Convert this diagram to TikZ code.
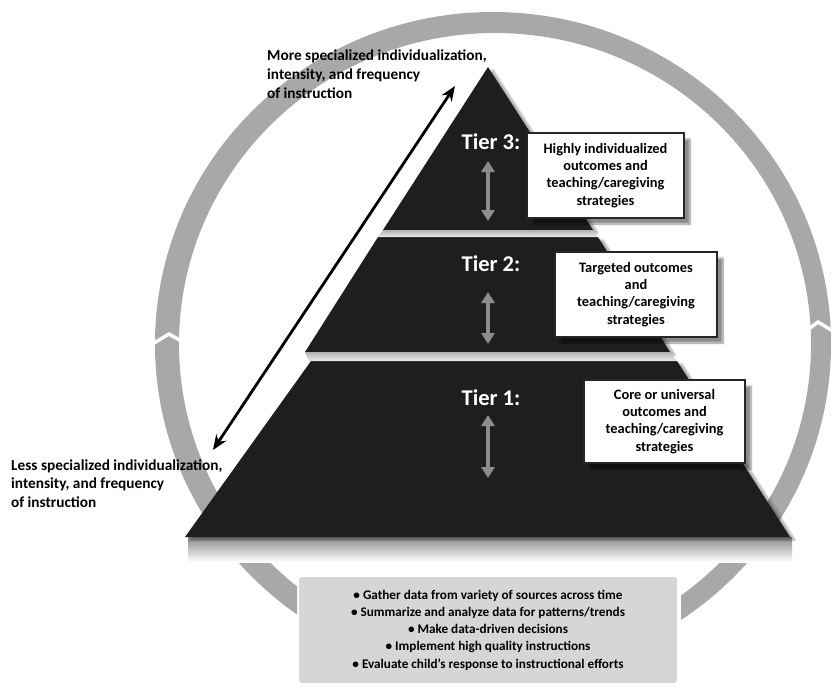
\documentclass[tikz,border=0pt]{standalone}
\usepackage{fontspec}
\setmainfont{Carlito}
\usetikzlibrary{arrows.meta,shadows.blur}
\definecolor{ringgray}{HTML}{A8A8A8}
\definecolor{tierfill}{HTML}{1E1E1E}
\definecolor{boxgray}{HTML}{D6D6D6}
\definecolor{arrowgray}{HTML}{8C8C8C}
\tikzset{
  tier/.style={fill=tierfill, blur shadow={shadow xshift=5pt, shadow yshift=-3pt, shadow blur steps=8, shadow opacity=35}},
  band/.style={top color=black!30, bottom color=black!8},
  tierlabel/.style={text=white, font=\fontsize{22.5}{22.5}\selectfont\bfseries, inner sep=0pt},
  descbox/.style={draw=black!85, line width=2.8pt, fill=white, align=center, inner sep=0pt,
    font=\fontsize{14.4}{17.3}\selectfont\bfseries,
    blur shadow={shadow xshift=6pt, shadow yshift=-6pt, shadow blur steps=8, shadow opacity=45}},
  sidelabel/.style={align=left, inner sep=0pt, font=\fontsize{15.3}{18.8}\selectfont\bfseries},
  dblarrow/.style={draw=arrowgray, line width=4.6pt, {Triangle[width=13pt,length=11pt]}-{Triangle[width=13pt,length=11pt]}},
  bigarrow/.style={draw=black, line width=2.8pt, {Stealth[length=15pt,width=12pt]}-{Stealth[length=15pt,width=12pt]}},
  chevron/.style={draw=white, line width=3.5pt}
}
\begin{document}
\begin{tikzpicture}[x=1pt,y=-1pt]
\useasboundingbox (0,0) rectangle (840,694);
% ring
\begin{scope}
  \clip (0,0) -- (840,0) -- (840,694) -- (681,694) -- (681,560) -- (297,560) -- (297,694) -- (0,694) -- cycle;
  \fill[ringgray, even odd rule] (493,344) ellipse [x radius=338, y radius=332]
                                 (495,344) ellipse [x radius=316, y radius=311];
\end{scope}
\draw[chevron] (149,346) -- (169,334) -- (190,346);
\draw[chevron] (802,334) -- (818,322) -- (836,333);
% shadow under pyramid
\shade[top color=black!45, bottom color=white] (188,537) rectangle (792,562);
% tiers
\fill[tier] (311,361) -- (677,361) -- (790,537) -- (185,537) -- cycle;
\fill[tier] (378,237) -- (598,237) -- (670,352) -- (305,352) -- cycle;
\fill[tier] (488,67) -- (593,230) -- (383,230) -- cycle;
% bevel bands
\shade[band] (383,230) -- (593,230) -- (598,237) -- (378,237) -- cycle;
\shade[band] (305,352) -- (670,352) -- (677,361) -- (309,361) -- cycle;
% tier labels
\node[tierlabel] (t3) at (491,142) {Tier 3:};
\node[tierlabel] (t2) at (491,264) {Tier 2:};
\node[tierlabel] (t1) at (491,398) {Tier 1:};
% gray double arrows
\coordinate (a3t) at (488,161);
\coordinate (a3b) at (488,221);
\coordinate (a2t) at (488,292);
\coordinate (a2b) at (488,344);
\coordinate (a1t) at (488,415);
\coordinate (a1b) at (488,478);
\draw[dblarrow] (a3t) -- (a3b);
\draw[dblarrow] (a2t) -- (a2b);
\draw[dblarrow] (a1t) -- (a1b);
% description boxes
\node[descbox, minimum width=157pt, minimum height=85pt] (b3) at (605.5,175.5)
  {Highly individualized\\outcomes and\\teaching/caregiving\\strategies};
\node[descbox, minimum width=162pt, minimum height=85pt] (b2) at (636,294.5)
  {Targeted outcomes\\and\\teaching/caregiving\\strategies};
\node[descbox, minimum width=161pt, minimum height=83pt] (b1) at (664.5,421.5)
  {Core or universal\\outcomes and\\teaching/caregiving\\strategies};
% diagonal arrow
\coordinate (dlow) at (213,450);
\coordinate (dhigh) at (455,86);
\draw[bigarrow] (dlow) -- (dhigh);
% side labels
\node[sidelabel, anchor=west] (more) at (267,74)
  {More specialized individualization,\\intensity, and frequency\\of instruction};
\node[sidelabel, anchor=west] (less) at (11,483.5)
  {Less specialized individualization,\\intensity, and frequency\\of instruction};
% bottom box
\node[fill=boxgray, rounded corners=3pt, minimum width=378pt, minimum height=106pt, inner sep=0pt,
      align=center, font=\fontsize{13.2}{17.2}\selectfont\bfseries] (cycle) at (488,630)
  {\textbullet\ Gather data from variety of sources across time\\
   \textbullet\ Summarize and analyze data for patterns/trends\\
   \textbullet\ Make data-driven decisions\\
   \textbullet\ Implement high quality instructions\\
   \textbullet\ Evaluate child’s response to instructional efforts};
\end{tikzpicture}
\end{document}
